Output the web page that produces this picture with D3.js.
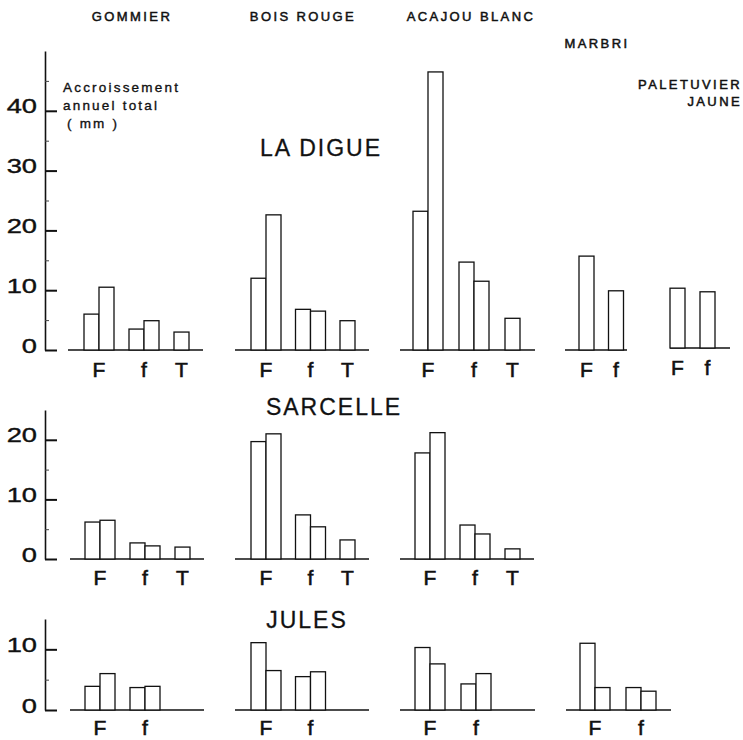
<!DOCTYPE html>
<html>
<head>
<meta charset="utf-8">
<script src="https://cdn.jsdelivr.net/npm/d3@7"></script>
<style>
  body { margin: 0; background: #fff; }
  text { font-family: "Liberation Sans", Arial, sans-serif; fill: #111; }
</style>
</head>
<body>
<div id="chart-area"></div>
<script>
// species (columns) and sites (rows)
var species = ["GOMMIER", "BOIS ROUGE", "ACAJOU BLANC", "MARBRI", "PALETUVIER JAUNE"];
var sites = ["LA DIGUE", "SARCELLE", "JULES"];
var categories = ["F", "f", "T"];

// annual growth (mm) : one array per category, one or two bars each
var laDigueValues = [
  [[6.0, 10.5], [3.5, 4.9], [3.0]],
  [[12.0, 22.6], [6.8, 6.5], [4.9]],
  [[23.2, 46.5], [14.7, 11.5], [5.3]],
  [[15.7], [9.9]],
  [[10.0], [9.4]]
];
var sarcelleValues = [
  [[6.2, 6.5], [2.7, 2.2], [2.0]],
  [[19.7, 21.0], [7.4, 5.4], [3.2]],
  [[17.8, 21.2], [5.7, 4.2], [1.7]]
];
var julesValues = [
  [[3.9, 6.0], [3.7, 3.9]],
  [[11.1, 6.5], [5.5, 6.3]],
  [[10.3, 7.6], [4.3, 6.0]],
  [[11.0, 3.7], [3.7, 3.1]]
];

var laDigueTicks = [0, 10, 20, 30, 40];
var sarcelleTicks = [0, 10, 20];
var julesTicks = [0, 10];

var width = 743, height = 740;
var barW = 15;

var svg = d3.select("#chart-area").append("svg")
  .attr("width", width)
  .attr("height", height);

// layout of each row: y range and panel geometry
var rows = [
  { site: sites[0], values: laDigueValues, ticks: laDigueTicks, max: 50, y0: 350, y1: 51,
    label: [321, 156], catDy: 27,
    panels: [
      { x0: 68, len: 135, off: 16, step: 45 },
      { x0: 235, len: 134, off: 16, step: 44.5 },
      { x0: 400, len: 135, off: 13, step: 46 },
      { x0: 565, len: 62, off: 14, step: 29.5 },
      { x0: 670, len: 60, off: 0, step: 30, dy: -2 }
    ] },
  { site: sites[1], values: sarcelleValues, ticks: sarcelleTicks, max: 25, y0: 559, y1: 410,
    label: [334, 415], catDy: 26,
    panels: [
      { x0: 70, len: 134, off: 15, step: 45 },
      { x0: 235, len: 134, off: 16, step: 44.5 },
      { x0: 400, len: 134, off: 15, step: 45 }
    ] },
  { site: sites[2], values: julesValues, ticks: julesTicks, max: 15, y0: 710, y1: 619,
    label: [307, 628], catDy: 25,
    panels: [
      { x0: 70, len: 134, off: 15, step: 45 },
      { x0: 235, len: 134, off: 16, step: 44.5 },
      { x0: 400, len: 135, off: 15, step: 46 },
      { x0: 566, len: 105, off: 14, step: 46 }
    ] }
];

var inner = d3.scaleBand().domain([0, 1]).range([0, 2 * barW]);

rows.forEach(function(row) {
  var y = d3.scaleLinear().domain([0, row.max]).range([row.y0, row.y1]);

  // left axis, ticks pointing right, labels on the left
  var axisG = svg.append("g")
    .attr("transform", "translate(45,0)")
    .call(d3.axisRight(y).tickValues(row.ticks).tickSize(12).tickSizeOuter(0));
  axisG.select(".domain").attr("stroke", "#111").attr("stroke-width", 1.6);
  axisG.selectAll(".tick line").attr("stroke", "#111").attr("stroke-width", 2);
  axisG.selectAll(".tick text")
    .attr("x", -8 / 1.3)
    .attr("dy", "0.1em")
    .attr("text-anchor", "end")
    .attr("transform", "scale(1.3,1)")
    .style("font-size", "21px")
    .style("font-family", "Liberation Sans, Arial, sans-serif")
    .style("stroke", "#111")
    .style("stroke-width", 0.4);

  var minor = d3.range(5, row.max, 10);
  var minorG = svg.append("g")
    .attr("transform", "translate(45,0)")
    .call(d3.axisRight(y).tickValues(minor).tickSize(4).tickSizeOuter(0).tickFormat(""));
  minorG.select(".domain").remove();
  minorG.selectAll(".tick line").attr("stroke", "#444").attr("stroke-width", 1);

  svg.append("text")
    .attr("x", row.label[0])
    .attr("y", row.label[1])
    .attr("text-anchor", "middle")
    .style("font-size", "23px")
    .style("letter-spacing", "2px")
    .style("stroke", "#111")
    .style("stroke-width", 0.3)
    .text(row.site);

  row.values.forEach(function(groups, i) {
    var p = row.panels[i];
    var dy = p.dy || 0;
    var cats = categories.slice(0, groups.length);
    var x = d3.scaleBand().domain(cats)
      .range([p.x0 + p.off, p.x0 + p.off + p.step * cats.length]);

    var g = svg.append("g").attr("transform", "translate(0," + dy + ")");

    g.append("line")
      .attr("x1", p.x0).attr("x2", p.x0 + p.len)
      .attr("y1", y(0)).attr("y2", y(0))
      .attr("stroke", "#111").attr("stroke-width", 1.6);

    cats.forEach(function(c, ci) {
      var vals = groups[ci];
      g.selectAll(null).data(vals).enter().append("rect")
        .attr("x", function(d, k) { return x(c) + inner(k); })
        .attr("y", function(d) { return y(d); })
        .attr("width", barW)
        .attr("height", function(d) { return y(0) - y(d); })
        .attr("fill", "#fff")
        .attr("stroke", "#111")
        .attr("stroke-width", 1.3);

      g.append("text")
        .attr("x", x(c) + vals.length * barW / 2)
        .attr("y", y(0) + row.catDy)
        .attr("text-anchor", "middle")
        .style("font-size", "21px")
        .style("stroke", "#111")
        .style("stroke-width", 0.6)
        .text(c);
    });
  });
});

// species titles
var titlePos = [[132, 21, "middle"], [303, 21, "middle"], [471, 21, "middle"], [597, 48, "middle"]];
titlePos.forEach(function(t, i) {
  svg.append("text")
    .attr("x", t[0]).attr("y", t[1])
    .attr("text-anchor", t[2])
    .style("font-size", "13px")
    .style("letter-spacing", "2.4px")
    .style("stroke", "#111").style("stroke-width", 0.5)
    .text(species[i]);
});
species[4].split(" ").forEach(function(w, i) {
  svg.append("text")
    .attr("x", 742).attr("y", 89 + i * 17)
    .attr("text-anchor", "end")
    .style("font-size", "13px")
    .style("letter-spacing", "2.4px")
    .style("stroke", "#111").style("stroke-width", 0.5)
    .text(w);
});

// y axis title
var yTitle = ["Accroissement", "annuel total", "( mm )"];
yTitle.forEach(function(line, i) {
  svg.append("text")
    .attr("x", i == 2 ? 67 : 63)
    .attr("y", 92 + i * 18)
    .style("font-size", "13.5px")
    .style("letter-spacing", "2.2px")
    .style("stroke", "#111").style("stroke-width", 0.35)
    .text(line);
});
</script>
</body>
</html>
